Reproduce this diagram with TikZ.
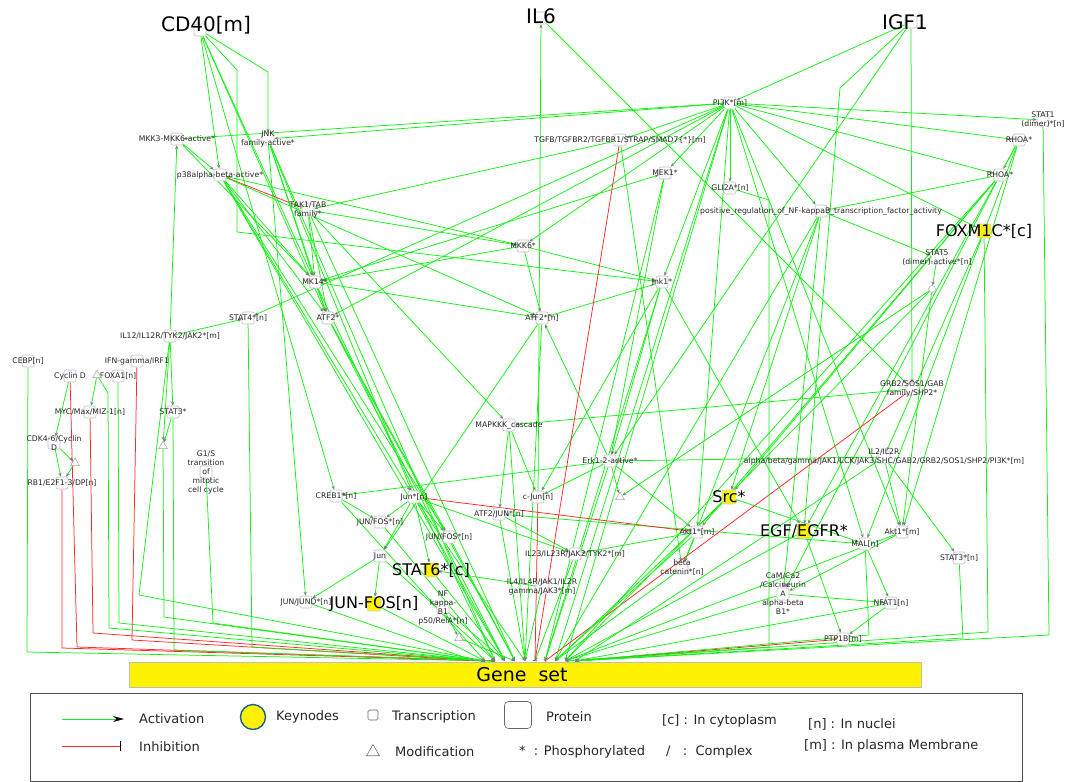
\documentclass[tikz,border=0pt]{standalone}
\usepackage{fontspec}
\setmainfont{DejaVu Sans}
\usetikzlibrary{arrows.meta,shapes.geometric,positioning}

\definecolor{lgreen}{RGB}{20,240,20}
\definecolor{lred}{RGB}{255,40,40}
\definecolor{boxgray}{RGB}{190,190,190}
\definecolor{tipgray}{RGB}{125,125,125}
\definecolor{ringblue}{RGB}{30,95,140}

\pgfdeclarelayer{edges}
\pgfsetlayers{edges,main}

\tikzset{
  prot/.style={draw=boxgray, fill=white, rounded corners=2pt, minimum width=12pt,
    minimum height=12pt, inner sep=0pt, line width=0.6pt},
  keybox/.style={prot, fill=yellow, draw=boxgray!70, minimum width=14pt, minimum height=14pt},
  tri/.style={draw=tipgray!70, fill=white, regular polygon, regular polygon sides=3,
    minimum size=10pt, inner sep=0pt, line width=0.5pt},
  circ/.style={draw=tipgray!70, fill=white, circle, minimum size=7pt, inner sep=0pt, line width=0.5pt},
  lab/.style={font=\fontsize{7.7}{9}\selectfont, text=black!85, align=center, inner sep=0pt},
  biglab/.style={font=\fontsize{20}{22}\selectfont, inner sep=0pt},
  keylab/.style={font=\fontsize{16}{18}\selectfont, inner sep=0pt},
  leg/.style={font=\fontsize{13}{15}\selectfont, anchor=west, inner sep=0pt, text=black!85},
  act/.style={draw=lgreen, line width=0.75pt, -{Stealth[length=4pt,width=3.2pt,color=tipgray]}},
  inh/.style={draw=lred, line width=0.75pt, -{Bar[width=4pt,color=tipgray]}},
}

\newcommand{\pnode}[3]{\node[prot] (#1) at (#2) {}; \node[lab] at (#1) {#3};}
\newcommand{\knode}[3]{\node[keybox] (#1) at (#2) {}; \node[keylab] at (#1) {#3};}

\begin{document}
\begin{tikzpicture}[x=1pt,y=-1pt]
\useasboundingbox (0,0) rectangle (1077,782);

%% ligands
\node[prot] (cd40) at (200,30) {};
\node[biglab] at (206,25) {CD40[m]};
\node[prot] (il6) at (541,18) {};
\node[biglab] at (541,16) {IL6};
\node[prot] (igf1) at (911,22) {};
\node[biglab] at (905,22) {IGF1};

%% proteins
\pnode{pi3k}{730,103}{PI3K*[m]}
\pnode{stat1}{1043,120}{STAT1\\(dimer)*[n]}
\pnode{rhoaA}{1019,140}{RHOA*}
\pnode{rhoaB}{1000,175}{RHOA*}
\pnode{mkk3}{177,139}{MKK3-MKK6-active*}
\pnode{jnk}{268,139}{JNK\\family-active*}
\pnode{p38}{220,175}{p38alpha-beta-active*}
\pnode{tgfb}{620,140}{TGFB/TGFBR2/TGFBR1/STRAP/SMAD7\{*\}[m]}
\pnode{mek1}{665,173}{MEK1*}
\pnode{gli2a}{730,188}{GLI2A*[n]}
\pnode{posreg}{821,211}{positive\_regulation\_of\_NF-kappaB\_transcription\_factor\_activity}
\pnode{tak1}{308,210}{TAK1/TAB\\family*}
\knode{foxm1c}{984,231}{FOXM1C*[c]}
\pnode{mkk6}{523,246}{MKK6*}
\pnode{stat5}{937,258}{STAT5\\(dimer)-active*[n]}
\node[circ] (stat5c) at (932,289) {};
\pnode{mk14}{315,282}{MK14*}
\pnode{jnk1}{662,282}{Jnk1*}
\pnode{stat4}{248,318}{STAT4*[n]}
\pnode{atf2}{328,318}{ATF2*}
\pnode{atf2n}{542,318}{ATF2*[n]}
\pnode{il12}{170,336}{IL12/IL12R/TYK2/JAK2*[m]}
\pnode{cebp}{28,361}{CEBP[n]}
\pnode{ifng}{137,361}{IFN-gamma/IRF1}
\pnode{cycd}{70,376}{Cyclin D}
\pnode{foxa1}{118,376}{FOXA1[n]}
\node[tri] (tria) at (97,375) {};
\pnode{myc}{90,412}{MYC/Max/MIZ-1[n]}
\pnode{stat3}{173,412}{STAT3*}
\pnode{cdk}{54,443}{CDK4-6/Cyclin\\D}
\node[tri] (trib) at (75,463) {};
\node[tri] (tric) at (163,446) {};
\pnode{rb1}{62,483}{RB1/E2F1-3/DP[n]}
\pnode{g1s}{206,472}{G1/S\\transition\\of\\mitotic\\cell cycle}
\pnode{mapkkk}{509,425}{MAPKKK\_cascade}
\pnode{grb2}{912,389}{GRB2/SOS1/GAB\\family/SHP2*}
\pnode{il2}{884,457}{IL2/IL2R\\alpha/beta/gamma/JAK1/LCK/JAK3/SHC/GAB2/GRB2/SOS1/SHP2/PI3K*[m]}
\pnode{erk}{610,461}{Erk1-2-active*}
\node[tri] (trid) at (620,497) {};
\pnode{creb1}{336,496}{CREB1*[n]}
\pnode{junn}{414,497}{Jun*[n]}
\pnode{cjun}{538,497}{c-Jun[n]}
\knode{src}{729,497}{Src*}
\pnode{jfos1}{380,522}{JUN/FOS*[n]}
\pnode{atfjun}{499,514}{ATF2/JUN*[n]}
\pnode{jfos2}{449,537}{JUN/FOS*[n]}
\pnode{akt1a}{697,532}{Akt1*[m]}
\knode{egfr}{804,531}{EGF/EGFR*}
\pnode{akt1b}{902,532}{Akt1*[m]}
\pnode{mal}{865,544}{MAL[n]}
\pnode{il23}{575,554}{IL23/IL23R/JAK2/TYK2*[m]}
\pnode{jun}{380,556}{Jun}
\knode{stat6}{431,570}{STAT6*[c]}
\pnode{bcat}{682,568}{beta\\catenin*[n]}
\pnode{stat3n}{959,558}{STAT3*[n]}
\pnode{il4}{542,587}{IL4/IL4R/JAK1/IL2R\\gamma/JAK3*[m]}
\pnode{cam}{783,594}{CaM/Ca2\\/Calcineurin\\A\\alpha-beta\\B1*}
\pnode{nfat1}{891,603}{NFAT1[n]}
\pnode{jjund}{306,602}{JUN/JUND*[n]}
\knode{jfosk}{374,604}{JUN-FOS[n]}
\pnode{nfkb}{443,608}{NF\\kappa-\\B1\\p50/RelA*[n]}
\node[tri] (trie) at (459,638) {};
\pnode{ptp1b}{843,639}{PTP1B[m]}

%% gene set
\node[draw=boxgray, fill=yellow, minimum width=792pt, minimum height=25pt, inner sep=0pt,
  anchor=north west] (gene) at (129,662) {};
\node[font=\fontsize{19}{21}\selectfont, inner sep=0pt] at (522,675) {Gene\ \ set};
\foreach \i in {0,...,12}
  \coordinate (g\i) at ({455+\i*10},661);

\begin{pgfonlayer}{edges}
%% ligands
\draw[act] (cd40) -- (p38);
\draw[act] (cd40) -- (268,72) -- (jnk);
\draw[act] (cd40) -- (237,70) -- (237,232) -- (jnk1);
\draw[act] (cd40) -- (mk14);
\draw[act] (cd40) -- (creb1);
\draw[act] (cd40) -- (atf2);
\draw[act] (igf1) -- (pi3k);
\draw[act] (igf1) -- (840,88) -- (egfr);
\draw[act] (igf1) -- (grb2);
\draw[act] (igf1) -- (erk);
\draw[act] (il6) -- (grb2);
\draw[act] (cjun) -- (il6);
%% PI3K
\draw[act] (pi3k) -- (mkk3);
\draw[act] (pi3k) -- (jnk);
\draw[act] (pi3k) -- (tgfb);
\draw[act] (pi3k) -- (mek1);
\draw[act] (pi3k) -- (gli2a);
\draw[act] (pi3k) -- (posreg);
\draw[act] (pi3k) -- (mkk6);
\draw[act] (pi3k) -- (stat1);
\draw[act] (pi3k) -- (rhoaA);
\draw[act] (pi3k) -- (rhoaB);
\draw[act] (pi3k) -- (foxm1c);
\draw[act] (pi3k) -- (jnk1);
\draw[act] (pi3k) -- (atf2);
\draw[act] (pi3k) -- (stat4);
\draw[act] (pi3k) -- (akt1a);
\draw[act] (pi3k) -- (akt1b);
\draw[act] (pi3k) -- (mal);
\draw[act] (pi3k) -- (g10);
\draw[act] (pi3k) -- (g11);
%% MAPK module
\draw[act] (mkk3) -- (p38);
\draw[act] (mkk3) -- (mk14);
\draw[act] (mkk6) -- (p38);
\draw[act] (mkk6) -- (mk14);
\draw[act] (mkk6) -- (atf2n);
\draw[act] (mkk6) -- (jnk1);
\draw[inh] (p38) -- (tak1);
\draw[act] (tgfb) -- (tak1);
\draw[act] (tak1) -- (mkk6);
\draw[act] (tak1) -- (mk14);
\draw[act] (tak1) -- (mapkkk);
\draw[act] (tak1) -- (atf2);
\draw[act] (jnk) -- (mk14);
\draw[act] (jnk) -- (atf2);
\draw[act] (jnk) -- (jjund);
\draw[act] (jnk) -- (junn);
\draw[act] (p38) -- (mk14);
\draw[act] (p38) -- (atf2);
\draw[act] (p38) -- (junn);
\draw[act] (p38) -- (jfos2);
\draw[act] (p38) -- (atf2n);
\draw[act] (mk14) -- (atf2);
\draw[act] (mk14) -- (atf2n);
\draw[act] (mk14) -- (mek1);
\draw[act] (jnk1) -- (atf2n);
\draw[act] (jnk1) -- (cjun);
\draw[act] (jnk1) -- (erk);
\draw[act] (jnk1) -- (egfr);
\draw[act] (mek1) -- (erk);
\draw[act] (erk) -- (atf2n);
\draw[act] (erk) -- (cjun);
\draw[act] (erk) -- (trid);
\draw[act] (erk) -- (creb1);
\draw[act] (erk) -- (akt1a);
\draw[act] (grb2) -- (mapkkk);
\draw[act] (mapkkk) -- (cjun);
\draw[act] (mapkkk) -- (atfjun);
\draw[act] (il2) -- (erk);
%% right side
\draw[act] (posreg) -- (stat5);
\draw[act] (posreg) -- (src);
\draw[act] (posreg) -- (bcat);
\draw[act] (posreg) -- (cam);
\draw[act] (rhoaB) -- (posreg);
\draw[act] (stat5) -- (stat5c);
\draw[act] (stat5c) -- (trid);
\draw[act] (stat5c) -- (akt1b);
\draw[act] (foxm1c) -- (il2);
\draw[act] (rhoaA) -- (rhoaB);
\draw[act] (rhoaA) -- (akt1b);
\draw[act] (rhoaA) -- (egfr);
\draw[act] (rhoaA) -- (mal);
\draw[act] (rhoaB) -- (src);
\draw[act] (rhoaB) -- (akt1a);
\draw[act] (rhoaB) -- (cam);
\draw[act] (il2) -- (akt1b);
\draw[act] (il2) -- (stat3n);
\draw[act] (src) -- (mal);
\draw[act] (egfr) -- (ptp1b);
\draw[act] (tgfb) -- (bcat);
\draw[act] (akt1a) -- (bcat);
\draw[act] (akt1a) -- (il23);
\draw[act] (mal) -- (nfat1);
\draw[act] (mal) -- (atfjun);
\draw[act] (cam) -- (nfat1);
\draw[act] (nfat1) -- (ptp1b);
\draw[act] (akt1b) -- (cam);
%% nucleus
\draw[act] (junn) -- (jfos1);
\draw[act] (junn) -- (jfos2);
\draw[act] (junn) -- (stat6);
\draw[act] (junn) -- (jun);
\draw[act] (junn) -- (il23);
\draw[inh] (junn) -- (akt1a);
\draw[act] (creb1) -- (jfos1);
\draw[act] (atfjun) -- (il23);
\draw[act] (il4) -- (stat6);
\draw[act] (jun) -- (jjund);
\draw[act] (jun) -- (jfosk);
\draw[act] (nfkb) -- (trie);
\draw[act] (atf2n) -- (jun);
\draw[act] (atf2) -- (jfos2);
%% left side
\draw[act] (il12) -- (mkk3);
\draw[act] (il12) -- (stat3);
\draw[act] (il12) -- (tric);
\draw[act] (il12) -- (stat4);
\draw[act] (stat3) -- (tric);
\draw[act] (cycd) -- (cdk);
\draw[act] (cdk) -- (rb1);
\draw[act] (cdk) -- (trib);
\draw[act] (trib) -- (rb1);
\draw[act] (tria) -- (myc);
%% to gene set
\draw[act] (cebp) -- (27,652) -- (g4);
\draw[inh] (rb1) -- (62,648) -- (g4);
\draw[inh] (cycd) -- (77,647) -- (g4);
\draw[inh] (myc) -- (93,633) -- (g3);
\draw[inh] (ifng) -- (132,640) -- (g3);
\draw[act] (foxa1) -- (119,623) -- (g3);
\draw[act] (tria) -- (108,393) -- (109,628) -- (g3);
\draw[act] (il12) -- (139,595) -- (g3);
\draw[act] (tric) -- (164,617) -- (g3);
\draw[act] (stat3) -- (174,650) -- (g4);
\draw[act] (g1s) -- (213,623) -- (g3);
\draw[act] (stat4) -- (252,647) -- (g4);
\draw[act] (jjund) -- (g2);
\draw[act] (jfosk) -- (g3);
\draw[act] (jun) -- (g4);
\draw[act] (stat6) -- (g5);
\draw[act] (nfkb) -- (g5);
\draw[act] (trie) -- (g6);
\draw[act] (jfos2) -- (g6);
\draw[act] (jfos1) -- (g4);
\draw[act] (creb1) -- (g3);
\draw[act] (junn) -- (g5);
\draw[act] (junn) -- (g7);
\draw[act] (atf2) -- (g5);
\draw[act] (atf2) -- (g6);
\draw[act] (mk14) -- (g4);
\draw[act] (p38) -- (g5);
\draw[act] (jnk) -- (g4);
\draw[act] (tak1) -- (g6);
\draw[act] (mapkkk) -- (g7);
\draw[act] (atfjun) -- (g7);
\draw[inh] (cjun) -- (g8);
\draw[inh] (tgfb) -- (g8);
\draw[act] (il23) -- (g8);
\draw[act] (il4) -- (g7);
\draw[act] (atf2n) -- (g7);
\draw[act] (erk) -- (g9);
\draw[act] (mek1) -- (g9);
\draw[act] (jnk1) -- (g9);
\draw[inh] (grb2) -- (g9);
\draw[act] (akt1a) -- (g10);
\draw[act] (bcat) -- (g10);
\draw[act] (src) -- (g10);
\draw[act] (posreg) -- (g10);
\draw[act] (egfr) -- (g11);
\draw[act] (cam) -- (g11);
\draw[act] (akt1b) -- (g11);
\draw[act] (rhoaB) -- (g11);
\draw[act] (stat5c) -- (g11);
\draw[act] (gli2a) -- (769,200) -- (769,647) -- (g11);
\draw[act] (nfat1) -- (g12);
\draw[act] (il2) -- (g12);
\draw[inh] (ptp1b) -- (g12);
\draw[act] (mal) -- (869,635) -- (g12);
\draw[act] (stat3n) -- (963,638) -- (g12);
\draw[act] (foxm1c) -- (988,632) -- (g12);
\draw[act] (stat1) -- (1049,635) -- (g12);
\end{pgfonlayer}

%% legend
\draw[black!70, line width=1pt] (30,693) rectangle (1022,781);
\coordinate (la1) at (62,719);
\coordinate (la2) at (124,719);
\coordinate (li1) at (62,746);
\coordinate (li2) at (121,746);
\draw[lgreen, line width=0.8pt, -{Stealth[length=11pt,width=6pt,color=black]}] (la1) -- (la2);
\draw[lred, line width=0.8pt, -{Bar[width=10pt,color=black]}] (li1) -- (li2);
\node[leg] (lact) at (139,719) {Activation};
\node[leg] (linh) at (139,747) {Inhibition};
\node[circle, fill=yellow, draw=ringblue, line width=1.4pt, minimum size=25pt] (lkey) at (253,717) {};
\node[leg] (lkeyt) at (276,717) {Keynodes};
\node[draw=black!60, rounded corners=1.5pt, minimum size=10pt, inner sep=0pt, line width=0.6pt] (ltr) at (373,715) {};
\node[leg] (ltrt) at (392,717) {Transcription};
\node[draw=black!55, regular polygon, regular polygon sides=3, minimum size=15pt, inner sep=0pt, line width=0.6pt] (lmod) at (373,752) {};
\node[leg] (lmodt) at (395,752) {Modification};
\node[draw=black!60, rounded corners=4pt, minimum size=27pt, inner sep=0pt, line width=0.6pt] (lprot) at (518,715) {};
\node[leg] (lprott) at (546,717) {Protein};
\node[leg] (lphos) at (519,752) {*\ \ : Phosphorylated};
\node[leg] (lcyt) at (662,721) {[c] : In cytoplasm};
\node[leg] (lcpx) at (666,752) {/\ \ \ :\ \ Complex};
\node[leg] (lnuc) at (808,724) {[n] : In nuclei};
\node[leg] (lmem) at (804,746) {[m] : In plasma Membrane};
\end{tikzpicture}
\end{document}
